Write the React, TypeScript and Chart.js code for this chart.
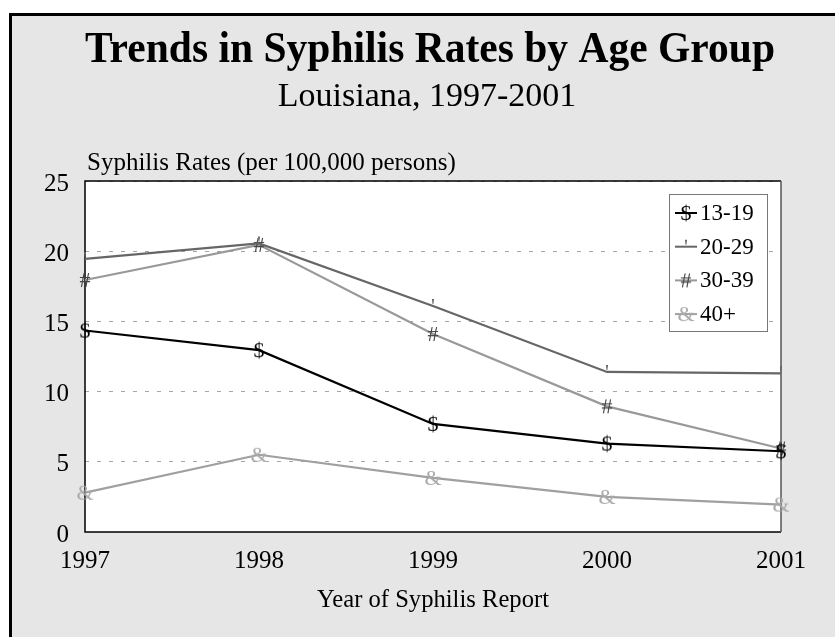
import React, { useEffect, useRef } from "react";
import { Chart, registerables } from "chart.js";

Chart.register(...registerables);

const TITLE = "Trends in Syphilis Rates by Age Group";
const SUBTITLE = "Louisiana, 1997-2001";
const Y_TITLE = "Syphilis Rates (per 100,000 persons)";
const X_TITLE = "Year of Syphilis Report";

const YEARS = ["1997", "1998", "1999", "2000", "2001"];
const SERIES_NAMES = ["13-19", "20-29", "30-39", "40+"];
const RATES_13_19 = [14.35, 12.95, 7.7, 6.3, 5.75];
const RATES_20_29 = [19.45, 20.55, 16.1, 11.4, 11.3];
const RATES_30_39 = [17.95, 20.45, 14.1, 8.95, 5.95];
const RATES_40_PLUS = [2.8, 5.5, 3.85, 2.5, 1.95];
const MARKERS = ["$", "'", "#", "&"];
const LINE_COLORS = ["#000000", "#666666", "#999999", "#a0a0a0"];
const MARKER_COLORS = ["#000000", "#666666", "#444444", "#aaaaaa"];
const Y_MIN = 0;
const Y_MAX = 25;
const Y_STEP = 5;

const SERIF = "'Times New Roman', 'Liberation Serif', serif";

function makeMarker(ch: string, color: string): HTMLCanvasElement {
  const c = document.createElement("canvas");
  c.width = 26;
  c.height = 26;
  const ctx = c.getContext("2d")!;
  ctx.font = `22px ${SERIF}`;
  ctx.fillStyle = color;
  ctx.textAlign = "center";
  ctx.textBaseline = "middle";
  ctx.fillText(ch, 13, ch === "'" ? 14 : 14);
  return c;
}

const framePlugin = {
  id: "frame",
  beforeDraw(chart: any) {
    const ctx = chart.ctx;
    const W = chart.width;
    const H = chart.height;
    ctx.save();
    ctx.fillStyle = "#ffffff";
    ctx.fillRect(0, 0, W, H);
    ctx.fillStyle = "#e6e6e6";
    ctx.fillRect(12, 16, W - 12, H - 16);
    ctx.fillStyle = "#000000";
    ctx.fillRect(9, 13, W - 9, 3);
    ctx.fillRect(9, 13, 3, H - 13);
    const a = chart.chartArea;
    ctx.fillStyle = "#ffffff";
    ctx.fillRect(a.left, a.top, a.right - a.left, a.bottom - a.top);
    ctx.restore();
  },
  beforeDatasetsDraw(chart: any) {
    const ctx = chart.ctx;
    const a = chart.chartArea;
    ctx.save();
    ctx.lineWidth = 1.5;
    ctx.strokeStyle = "#000000";
    ctx.beginPath();
    ctx.moveTo(a.right, a.top);
    ctx.lineTo(a.left, a.top);
    ctx.lineTo(a.left, a.bottom);
    ctx.lineTo(a.right, a.bottom);
    ctx.stroke();
    ctx.strokeStyle = "#555555";
    ctx.beginPath();
    ctx.moveTo(a.right, a.top);
    ctx.lineTo(a.right, a.bottom);
    ctx.stroke();
    ctx.restore();
  },
  afterDraw(chart: any) {
    const ctx = chart.ctx;
    const a = chart.chartArea;
    ctx.save();
    ctx.fillStyle = "#000000";
    ctx.textBaseline = "alphabetic";
    ctx.textAlign = "center";
    ctx.font = `bold 44px ${SERIF}`;
    ctx.fillText(TITLE, 430, 62, 690);
    ctx.font = `34px ${SERIF}`;
    ctx.fillText(SUBTITLE, 427, 106, 300);
    ctx.font = `25px ${SERIF}`;
    ctx.textAlign = "left";
    ctx.fillText(Y_TITLE, 87, 170, 375);
    ctx.textAlign = "center";
    ctx.font = `26px ${SERIF}`;
    ctx.fillText(X_TITLE, (a.left + a.right) / 2, 607, 232);

    // legend
    const lx = 669, ly = 194, lw = 98, lh = 137;
    ctx.fillStyle = "#ffffff";
    ctx.fillRect(lx, ly, lw, lh);
    ctx.strokeStyle = "#777777";
    ctx.lineWidth = 1;
    ctx.strokeRect(lx + 0.5, ly + 0.5, lw, lh);
    chart.data.datasets.forEach((ds: any, i: number) => {
      const y = 213 + i * 33.7;
      ctx.strokeStyle = ds.borderColor;
      ctx.lineWidth = 2;
      ctx.beginPath();
      ctx.moveTo(675, y);
      ctx.lineTo(697, y);
      ctx.stroke();
      ctx.drawImage(ds.pointStyle, 686 - 13, y - 13);
      ctx.fillStyle = "#000000";
      ctx.font = `23px ${SERIF}`;
      ctx.textAlign = "left";
      ctx.textBaseline = "middle";
      ctx.fillText(ds.label, 700, y + 1);
    });
    ctx.restore();
  },
};

export default function App() {
  const ref = useRef<HTMLCanvasElement | null>(null);
  useEffect(() => {
    if (!ref.current) return;
    const seriesValues = [RATES_13_19, RATES_20_29, RATES_30_39, RATES_40_PLUS];
    const chart = new Chart(ref.current, {
      type: "line",
      data: {
        labels: YEARS,
        datasets: SERIES_NAMES.map((name, i) => ({
          label: name,
          data: seriesValues[i],
          borderColor: LINE_COLORS[i],
          backgroundColor: LINE_COLORS[i],
          borderWidth: 2.2,
          fill: false,
          tension: 0,
          clip: false as any,
          pointStyle: makeMarker(MARKERS[i], MARKER_COLORS[i]) as any,
          pointRadius: 10,
          pointHoverRadius: 10,
        })),
      },
      options: {
        responsive: false,
        animation: false,
        events: [],
        layout: { padding: { left: 0, top: 181, right: 54, bottom: 0 } },
        plugins: {
          legend: { display: false },
          title: { display: false },
          tooltip: { enabled: false },
        },
        scales: {
          x: {
            type: "category",
            offset: false,
            grid: { display: false, drawTicks: false },
            border: { display: false },
            ticks: {
              color: "#000000",
              font: { family: SERIF, size: 25 },
              padding: 14,
              maxRotation: 0,
            },
            afterFit(scale: any) {
              scale.height = 105;
            },
          },
          y: {
            min: Y_MIN,
            max: Y_MAX,
            grid: {
              color: (c: any) => (c.tick && c.tick.value === 0 ? "rgba(0,0,0,0)" : "#a6a6a6"),
              lineWidth: 1,
              drawTicks: false,
            },
            border: { display: false, dash: [4, 8] },
            ticks: {
              stepSize: Y_STEP,
              color: "#000000",
              font: { family: SERIF, size: 25 },
              padding: 16,
              labelOffset: 3,
            },
            afterFit(scale: any) {
              scale.width = 85;
            },
          },
        },
      },
      plugins: [framePlugin],
    });
    return () => chart.destroy();
  }, []);
  return (
    <canvas
      ref={ref}
      width={835}
      height={637}
      style={{ position: "absolute", left: 0, top: 0, display: "block" }}
    />
  );
}
